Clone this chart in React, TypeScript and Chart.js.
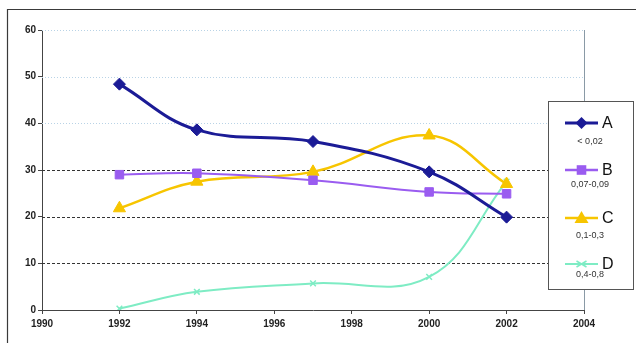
import React, { useEffect, useRef } from "react";
import { Chart, registerables } from "chart.js";

Chart.register(...registerables);

const years = [1992, 1994, 1997, 2000, 2002];
const seriesA = [48.4, 38.6, 36.1, 29.6, 19.9];
const seriesB = [29.0, 29.3, 27.8, 25.3, 24.9];
const seriesC = [21.8, 27.5, 29.6, 37.4, 27.0];
const seriesD = [0.3, 3.9, 5.7, 7.1, 27.5];
const names = ["A", "B", "C", "D"];
const subLabels = ["< 0,02", "0,07-0,09", "0,1-0,3", "0,4-0,8"];
const colors = ["#1b1b96", "#9a5cf0", "#f7c500", "#7eecc4"];
const shapes = ["rectRot", "rect", "triangle", "crossRot"];
const yTicks = [0, 10, 20, 30, 40, 50, 60];

const toPoints = (vals: number[]) => vals.map((v, i) => ({ x: years[i], y: v }));

function drawMarker(ctx: CanvasRenderingContext2D, shape: string, x: number, y: number, r: number, color: string) {
  ctx.save();
  ctx.fillStyle = color;
  ctx.strokeStyle = color;
  ctx.lineWidth = 1.5;
  ctx.beginPath();
  if (shape === "rectRot") {
    ctx.moveTo(x, y - r);
    ctx.lineTo(x + r, y);
    ctx.lineTo(x, y + r);
    ctx.lineTo(x - r, y);
    ctx.closePath();
    ctx.fill();
  } else if (shape === "rect") {
    ctx.rect(x - r * 0.8, y - r * 0.8, r * 1.6, r * 1.6);
    ctx.fill();
  } else if (shape === "triangle") {
    ctx.moveTo(x, y - r);
    ctx.lineTo(x + r, y + r * 0.7);
    ctx.lineTo(x - r, y + r * 0.7);
    ctx.closePath();
    ctx.fill();
  } else {
    ctx.moveTo(x - r, y - r * 0.6);
    ctx.lineTo(x + r, y + r * 0.6);
    ctx.moveTo(x - r, y + r * 0.6);
    ctx.lineTo(x + r, y - r * 0.6);
    ctx.stroke();
  }
  ctx.restore();
}

const decorPlugin = {
  id: "decor",
  beforeDraw(chart: any) {
    const ctx = chart.ctx as CanvasRenderingContext2D;
    ctx.save();
    ctx.fillStyle = "#ffffff";
    ctx.fillRect(0, 0, chart.width, chart.height);
    ctx.strokeStyle = "#3a3a3a";
    ctx.lineWidth = 1.2;
    ctx.beginPath();
    ctx.moveTo(7.5, chart.height);
    ctx.lineTo(7.5, 9.5);
    ctx.lineTo(chart.width, 9.5);
    ctx.stroke();
    ctx.restore();
  },
  beforeDatasetsDraw(chart: any) {
    const ctx = chart.ctx as CanvasRenderingContext2D;
    const area = chart.chartArea;
    const ys = chart.scales.y;
    ctx.save();
    yTicks.forEach((t) => {
      if (t === 0) return;
      const py = Math.round(ys.getPixelForValue(t)) + 0.5;
      ctx.beginPath();
      if (t <= 30) {
        ctx.strokeStyle = "#333333";
        ctx.setLineDash([3, 2]);
        ctx.lineWidth = 1;
      } else {
        ctx.strokeStyle = "#b9d3e6";
        ctx.setLineDash([1, 2]);
        ctx.lineWidth = 1;
      }
      ctx.moveTo(area.left, py);
      ctx.lineTo(area.right, py);
      ctx.stroke();
    });
    ctx.setLineDash([]);
    ctx.strokeStyle = "#8a9aa6";
    ctx.lineWidth = 1;
    ctx.beginPath();
    ctx.moveTo(Math.round(area.right) + 0.5, area.top);
    ctx.lineTo(Math.round(area.right) + 0.5, area.bottom);
    ctx.stroke();
    ctx.restore();
  },
  afterDraw(chart: any) {
    const ctx = chart.ctx as CanvasRenderingContext2D;
    ctx.save();
    const bx = 548.5, by = 101.5, bw = 85, bh = 188;
    ctx.fillStyle = "#ffffff";
    ctx.fillRect(bx, by, bw, bh);
    ctx.strokeStyle = "#555555";
    ctx.lineWidth = 1;
    ctx.strokeRect(bx, by, bw, bh);
    const lineYs = [123, 170, 218, 264];
    const subYs = [142, 185, 236, 275];
    const widths = [3, 2.5, 2.5, 2];
    const radii = [6, 6, 7, 5];
    names.forEach((n, i) => {
      const ly = lineYs[i];
      ctx.strokeStyle = colors[i];
      ctx.lineWidth = widths[i];
      ctx.beginPath();
      ctx.moveTo(565, ly);
      ctx.lineTo(598, ly);
      ctx.stroke();
      drawMarker(ctx, shapes[i], 581.5, ly, radii[i], colors[i]);
      ctx.fillStyle = "#111111";
      ctx.font = "16px 'Liberation Sans', Arial, sans-serif";
      ctx.textAlign = "left";
      ctx.textBaseline = "middle";
      ctx.fillText(n, 602, ly + 1);
      ctx.font = "9px 'Liberation Sans', Arial, sans-serif";
      ctx.textAlign = "center";
      ctx.fillStyle = "#333333";
      ctx.fillText(subLabels[i], 590, subYs[i]);
    });
    ctx.restore();
  },
};

export default function App() {
  const ref = useRef<HTMLCanvasElement | null>(null);
  useEffect(() => {
    if (!ref.current) return;
    const seriesList = [seriesA, seriesB, seriesC, seriesD];
    const lw = [3, 2, 2.5, 2];
    const pr = [6, 6, 7, 4];
    const chart = new Chart(ref.current, {
      type: "line",
      data: {
        datasets: seriesList.map((s, i) => ({
          label: names[i],
          data: toPoints(s),
          borderColor: colors[i],
          backgroundColor: colors[i],
          borderWidth: lw[i],
          pointStyle: shapes[i] as any,
          pointRadius: pr[i],
          pointBorderWidth: i === 3 ? 1.5 : 1,
          pointBorderColor: colors[i],
          pointBackgroundColor: colors[i],
          tension: 0.4,
          fill: false,
        })),
      },
      options: {
        responsive: false,
        animation: false,
        devicePixelRatio: 1,
        layout: { padding: { left: 0, top: 30, right: 52, bottom: 0 } },
        plugins: { legend: { display: false }, tooltip: { enabled: false } },
        scales: {
          x: {
            type: "linear",
            min: 1990,
            max: 2004,
            afterFit: (s: any) => { s.height = 33; },
            ticks: {
              stepSize: 2,
              padding: 4,
              color: "#222222",
              font: { family: "'Liberation Sans', Arial, sans-serif", size: 10, weight: "bold" },
              callback: (v: any) => String(v),
              maxRotation: 0,
            },
            grid: { drawOnChartArea: false, drawTicks: true, tickLength: 4, tickColor: "#444444" },
            border: { display: true, color: "#444444", width: 1 },
          },
          y: {
            min: 0,
            max: 60,
            afterFit: (s: any) => { s.width = 42; },
            ticks: {
              stepSize: 10,
              padding: 2,
              color: "#222222",
              font: { family: "'Liberation Sans', Arial, sans-serif", size: 10, weight: "bold" },
            },
            grid: { drawOnChartArea: false, drawTicks: true, tickLength: 4, tickColor: "#444444" },
            border: { display: true, color: "#444444", width: 1 },
          },
        },
      },
      plugins: [decorPlugin],
    });
    return () => chart.destroy();
  }, []);
  return (
    <div style={{ position: "absolute", left: 0, top: 0, width: 636, height: 343 }}>
      <canvas ref={ref} width={636} height={343} style={{ display: "block" }} />
    </div>
  );
}
